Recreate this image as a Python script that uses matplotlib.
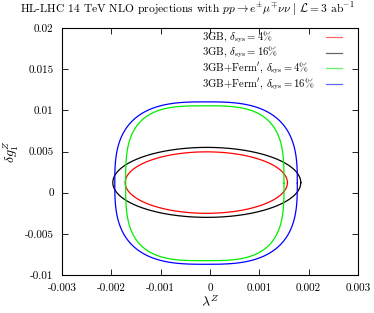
import numpy as np
import matplotlib
matplotlib.use("Agg")
import matplotlib.pyplot as plt
from matplotlib.lines import Line2D

plt.rcParams['font.family'] = 'serif'
plt.rcParams['font.serif'] = ['cmr10', 'DejaVu Serif']
plt.rcParams['mathtext.fontset'] = 'cm'
plt.rcParams['axes.unicode_minus'] = False

# Contour descriptions:
# centre (x, y), left/right half-widths, top/bottom half-heights, shape exponent
labels = [r"3GB, $\delta_{\rm sys}=4\%$",
          r"3GB, $\delta_{\rm sys}=16\%$",
          r"3GB+Ferm$'$, $\delta_{\rm sys}=4\%$",
          r"3GB+Ferm$'$, $\delta_{\rm sys}=16\%$"]
colors = ['#ff0000', '#000000', '#00ee00', '#0000ff']
centre_x = [-0.00007, -0.00006, -0.00010, -0.00008]
centre_y = [0.00122, 0.00122, 0.00115, 0.00115]
half_left = [0.00165, 0.00191, 0.00161, 0.00185]
half_right = [0.00164, 0.00190, 0.00160, 0.00185]
half_top = [0.00374, 0.00428, 0.00940, 0.00988]
half_bottom = [0.00373, 0.00422, 0.00941, 0.00985]
exponent = [2.0, 2.0, 3.2, 2.9]

xticks = [-0.003, -0.002, -0.001, 0, 0.001, 0.002, 0.003]
xticklabels = ['-0.003', '-0.002', '-0.001', '0', '0.001', '0.002', '0.003']
yticks = [-0.01, -0.005, 0, 0.005, 0.01, 0.015, 0.02]
yticklabels = ['-0.01', '-0.005', '0', '0.005', '0.01', '0.015', '0.02']

fig = plt.figure(figsize=(3.74, 3.13), dpi=100)
ax = fig.add_axes([62/374, 1-275/313, 296/374, 247/313])

t = np.linspace(0, 2*np.pi, 721)
c, s = np.cos(t), np.sin(t)
for i in range(4):
    n = exponent[i]
    hx = np.where(c < 0, half_left[i], half_right[i])
    hy = np.where(s > 0, half_top[i], half_bottom[i])
    x = centre_x[i] + hx*np.sign(c)*np.abs(c)**(2/n)
    y = centre_y[i] + hy*np.sign(s)*np.abs(s)**(2/n)
    ax.plot(x, y, color=colors[i], lw=0.9)

ax.set_xlim(-0.003, 0.003)
ax.set_ylim(-0.01, 0.02)
ax.set_xticks(xticks)
ax.set_xticklabels(xticklabels, fontsize=8)
ax.set_yticks(yticks)
ax.set_yticklabels(yticklabels, fontsize=8)
ax.tick_params(direction='in', top=True, right=True, length=4, width=0.6, pad=6)
for sp in ax.spines.values():
    sp.set_linewidth(0.8)

ax.set_xlabel(r"$\lambda^Z$", fontsize=10, labelpad=1)
ax.set_ylabel(r"$\delta g_1^Z$", fontsize=10, labelpad=3)
fig.text(0.5, 1-9/313, r"HL-LHC 14 TeV NLO projections with $pp\rightarrow e^{\pm}\mu^{\mp}\nu\nu$ $|$ $\mathcal{L}=3$ ab$^{-1}$",
         ha='center', va='center', fontsize=8.3)

# key: left-aligned labels with short samples on the right (gnuplot style)
row_y = [0.9636, 0.8999, 0.8364, 0.7729]
for i in range(4):
    ax.text(0.472, row_y[i], labels[i], transform=ax.transAxes, ha='left', va='center',
            fontsize=7.7)
    ax.add_line(Line2D([0.891, 0.945], [row_y[i], row_y[i]], transform=ax.transAxes,
                       color=colors[i], lw=0.9, alpha=0.6))

fig.savefig("out.png", dpi=100)
